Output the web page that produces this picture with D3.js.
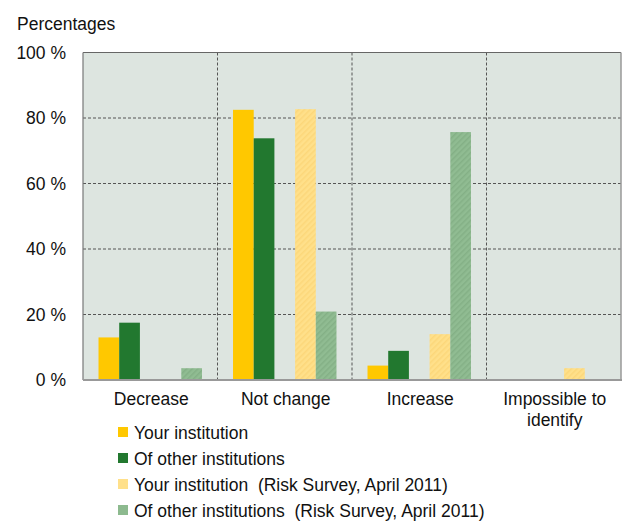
<!DOCTYPE html>
<html><head><meta charset="utf-8">
<script src="https://cdn.jsdelivr.net/npm/d3@7"></script>
<style>body{margin:0;background:#fff}svg{display:block;font-family:"Liberation Sans",Arial,sans-serif}text{white-space:pre}</style>
</head><body>
<svg id="c" width="622" height="522"></svg>
<script>
const categories = [["Decrease"], ["Not change"], ["Increase"], ["Impossible to", "identify"]];
const seriesNames = ["Your institution", "Of other institutions", "Your institution  (Risk Survey, April 2011)", "Of other institutions  (Risk Survey, April 2011)"];
const yourInst = [13.0, 82.5, 4.4, 0];
const otherInst = [17.5, 73.8, 8.9, 0];
const yourInst2011 = [0, 82.7, 14.0, 3.6];
const otherInst2011 = [3.6, 20.9, 75.7, 0];
const yTicks = [0, 20, 40, 60, 80, 100];

const series = [yourInst, otherInst, yourInst2011, otherInst2011];
const colors = ["#FFC800", "#22782F", "url(#hy)", "url(#hg)"];
const legendColors = ["#FFC800", "#22782F", "#FFE08A", "#8DBA8F"];

const svg = d3.select("#c");
const defs = svg.append("defs");
function hatch(id, base, line) {
  const p = defs.append("pattern").attr("id", id).attr("patternUnits", "userSpaceOnUse")
    .attr("width", 4).attr("height", 4).attr("patternTransform", "rotate(45)");
  p.append("rect").attr("width", 4).attr("height", 4).attr("fill", base);
  p.append("rect").attr("width", 1.5).attr("height", 4).attr("fill", line);
}
hatch("hy", "#FFE08A", "#FCD77A");
hatch("hg", "#90BC92", "#84B086");

const L = 83, R = 621, T = 52.5, B = 380;
const x = d3.scaleBand().domain(d3.range(categories.length)).range([L, R]);
const slot = d3.scaleBand().domain([0, 1, 2, 3, 4]).range([0, x.bandwidth()]).paddingOuter(0.75);
const slotIdx = [0, 1, 3, 4];
const y = d3.scaleLinear().domain([0, 100]).range([B, T]);

svg.append("rect").attr("x", L).attr("y", T).attr("width", R - L).attr("height", B - T).attr("fill", "#DDE5E0");

// gridlines
svg.append("g").selectAll("line").data(yTicks.filter(d => d > 0 && d < 100)).join("line")
  .attr("x1", L).attr("x2", R).attr("y1", d => y(d)).attr("y2", d => y(d))
  .attr("stroke", "#555").attr("stroke-width", 1).attr("stroke-dasharray", "3,2");
svg.append("g").selectAll("line").data(d3.range(1, categories.length)).join("line")
  .attr("x1", d => x(d)).attr("x2", d => x(d)).attr("y1", T).attr("y2", B)
  .attr("stroke", "#555").attr("stroke-width", 1).attr("stroke-dasharray", "3,2");

// bars
series.forEach((vals, si) => {
  svg.append("g").selectAll("rect").data(vals).join("rect")
    .attr("x", (d, i) => x(i) + slot(slotIdx[si]))
    .attr("width", slot.bandwidth())
    .attr("y", d => y(d))
    .attr("height", d => B - y(d))
    .attr("fill", colors[si]);
});

// borders
svg.append("line").attr("x1", L).attr("x2", R).attr("y1", T).attr("y2", T).attr("stroke", "#666").attr("stroke-width", 1.2);
svg.append("line").attr("x1", R).attr("x2", R).attr("y1", T).attr("y2", B).attr("stroke", "#999").attr("stroke-width", 1.5);
svg.append("line").attr("x1", L).attr("x2", L).attr("y1", T).attr("y2", B).attr("stroke", "#777").attr("stroke-width", 1.2);
svg.append("line").attr("x1", L).attr("x2", R + 1).attr("y1", B).attr("y2", B).attr("stroke", "#999").attr("stroke-width", 2);

// y axis labels
const yAxis = d3.axisLeft(y).tickValues(yTicks).tickFormat(d => d + " %").tickSize(0).tickPadding(17);
const ga = svg.append("g").attr("transform", `translate(${L},0)`).call(yAxis);
ga.select(".domain").remove();
ga.selectAll("text").attr("font-size", 17.5).attr("fill", "#111").attr("font-family", "Liberation Sans, Arial, sans-serif");

svg.append("text").attr("x", 17).attr("y", 30).attr("font-size", 17.5).attr("fill", "#111").text("Percentages");

// category labels
categories.forEach((lines, i) => {
  const t = svg.append("text").attr("text-anchor", "middle").attr("font-size", 17.5).attr("fill", "#111")
    .attr("x", x(i) + x.bandwidth() / 2 + 1).attr("y", 405);
  lines.forEach((ln, j) => t.append("tspan").attr("x", x(i) + x.bandwidth() / 2 + 1).attr("dy", j === 0 ? 0 : 21).text(ln));
});

// legend
const lg = svg.append("g");
seriesNames.forEach((n, i) => {
  const yy = 433 + i * 26;
  lg.append("rect").attr("x", 118).attr("y", yy - 6).attr("width", 10).attr("height", 10).attr("fill", legendColors[i]);
  lg.append("text").attr("x", 134).attr("y", yy + 6).attr("font-size", 17.5).attr("fill", "#111").text(n);
});
</script>
</body></html>
